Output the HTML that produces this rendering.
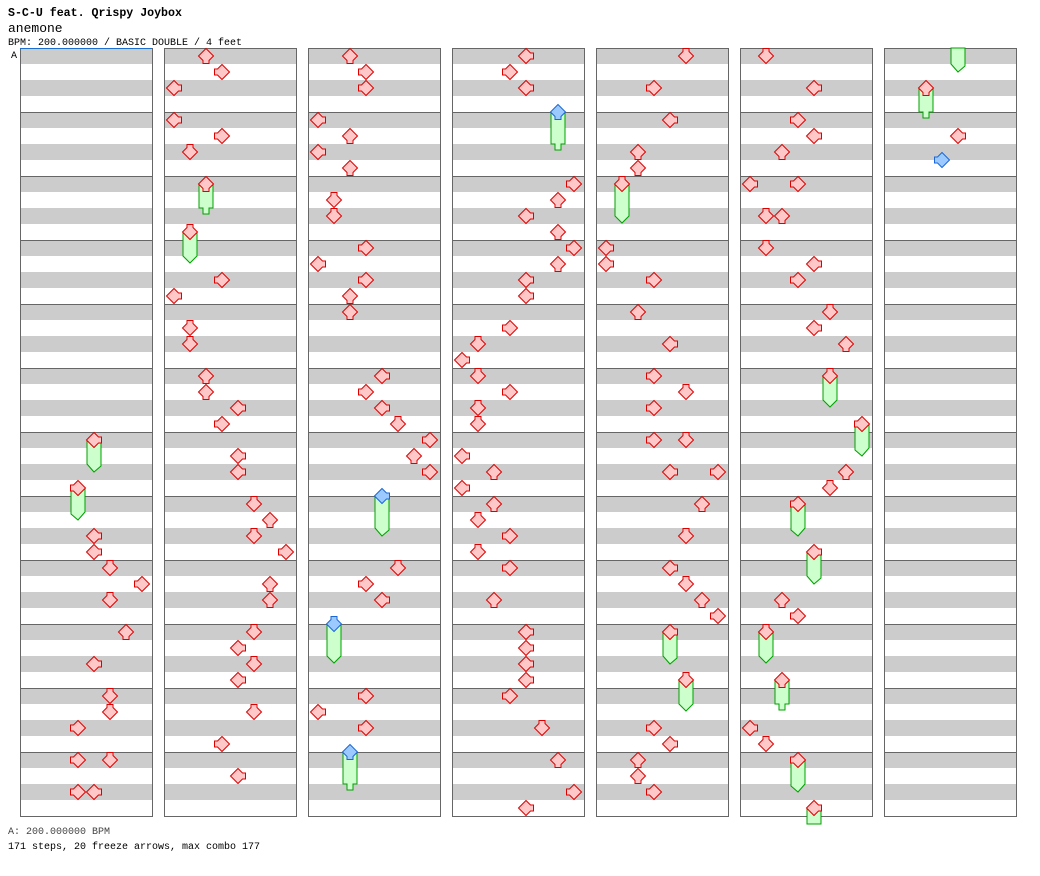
<!DOCTYPE html>
<html><head><meta charset="utf-8"><style>
html,body{margin:0;padding:0;background:#fff;}
svg{display:block;}
</style></head><body>
<svg id="chart" width="1040" height="876" viewBox="0 0 1040 876" xmlns="http://www.w3.org/2000/svg">
<text x="8" y="16" font-family="Liberation Mono, monospace" font-weight="bold" font-size="11.6" fill="#000">S-C-U feat. Qrispy Joybox</text>
<text x="8" y="32" font-family="Liberation Mono, monospace" font-size="13" fill="#000">anemone</text>
<text x="8" y="45" font-family="Liberation Mono, monospace" font-size="10" fill="#000">BPM: 200.000000 / BASIC DOUBLE / 4 feet</text>
<text x="11" y="58" font-family="Liberation Mono, monospace" font-size="10" fill="#000">A</text>
<g id="grid"></g>
<g id="freezes"></g>
<g id="notes"></g>
<line x1="20" y1="48.5" x2="152" y2="48.5" stroke="#1a6fd0" stroke-width="1"/>
<text x="8" y="834" font-family="Liberation Mono, monospace" font-size="10" fill="#444">A: 200.000000 BPM</text>
<text x="8" y="849" font-family="Liberation Mono, monospace" font-size="10" fill="#000">171 steps, 20 freeze arrows, max combo 177</text>
</svg>
<script>
// chart data: beat position (global), lane (0-7: L D U R L D U R), freeze length in beats (0 = tap)
const noteBeats = [24,27,30,31,32,33,34,36,38,40,41,42,44,44,46,46,
48,49,50,52,53,54,56,59,62,63,65,66,68,69,70,71,73,74,76,77,78,79,81,82,84,85,86,87,89,91,93,
96,97,98,100,101,102,103,105,106,108,109,110,111,112,116,117,118,119,120,121,122,123.5,128,129,130,131.5,136,137,138,139.5,
144,145,146,147.5,152,153,154,155,156,157,158,159,161,162,163,164,165,166,167,169,170,171,172,173,174,175,176,178,180,181,182,183,184,186,188,190,191,
192,194,196,198,199,200,204,205,206,208,210,212,213,214,216,216,218,218,220,222,224,225,226,227,228,231,234,235,236,237,238,
240,242,244,245,246,248,248,250,250,252,253,254,256,257,258,260,263,266,267,268,271,274,275,276,279,282,283,284,287,
290,293,294.5];
const noteLanes = [4,3,4,4,5,7,5,6,4,5,5,3,3,5,3,4,
2,3,0,0,3,1,2,1,3,0,1,1,2,2,4,3,4,4,5,6,5,7,6,6,5,4,5,4,5,3,4,
2,3,3,0,2,0,2,1,1,3,0,3,2,2,4,3,4,5,7,6,7,4,5,3,4,1,3,0,3,2,
4,3,4,6,7,6,4,6,7,6,4,4,3,1,0,1,3,1,1,0,2,0,2,1,3,1,3,2,4,4,4,4,3,5,6,7,4,
5,3,4,2,2,1,0,0,3,2,4,3,5,3,3,5,4,7,6,5,4,5,6,7,4,5,3,4,2,2,3,
1,4,3,4,2,0,3,1,2,1,4,3,5,4,6,5,7,6,5,3,4,2,3,1,2,0,1,3,4,
2,4,3];
const holdLens = [1.5,1.5,0,0,0,0,0,0,0,0,0,0,0,0,0,0,
0,0,0,0,0,0,1.5,1.5,0,0,0,0,0,0,0,0,0,0,0,0,0,0,0,0,0,0,0,0,0,0,0,
0,0,0,0,0,0,0,0,0,0,0,0,0,0,0,0,0,0,0,0,0,2,0,0,0,2,0,0,0,2,
0,0,0,2,0,0,0,0,0,0,0,0,0,0,0,0,0,0,0,0,0,0,0,0,0,0,0,0,0,0,0,0,0,0,0,0,0,
0,0,0,0,0,2,0,0,0,0,0,0,0,0,0,0,0,0,0,0,0,0,0,0,1.5,1.5,0,0,0,0,0,
0,0,0,0,0,0,0,0,0,0,0,0,0,0,0,1.5,1.5,0,0,1.5,1.5,0,0,1.5,1.5,0,0,1.5,1.5,
1.5,0,0];
const laneAngles = [-90,180,0,90,-90,180,0,90];

const NS = 'http://www.w3.org/2000/svg';
const BEATS_PER_COL = 48, COLS = 7, TOP = 48, BEAT_PX = 16, COL_W = 132;
const colX = c => 20 + 144 * c;
const colOf = b => Math.floor(b / BEATS_PER_COL);
const yOf = b => TOP + BEAT_PX * (b - colOf(b) * BEATS_PER_COL);
const laneX = (c, l) => colX(c) + 10 + 16 * l;

const grid = document.getElementById('grid');
const frz = document.getElementById('freezes');
const notes = document.getElementById('notes');

for (let c = 0; c < COLS; c++) {
  const g = document.createElementNS(NS, 'g');
  
  
  for (let b = 0; b < BEATS_PER_COL; b++) {
    const r = document.createElementNS(NS, 'rect');
    r.setAttribute('x', colX(c)); r.setAttribute('y', TOP + b * BEAT_PX);
    r.setAttribute('width', COL_W); r.setAttribute('height', BEAT_PX);
    r.setAttribute('fill', b % 2 === 0 ? '#cccccc' : '#ffffff');
    g.appendChild(r);
  }
  for (let m = 1; m < 12; m++) {
    const ln = document.createElementNS(NS, 'line');
    
    
    ln.setAttribute('x1', colX(c)); ln.setAttribute('x2', colX(c) + COL_W);
    ln.setAttribute('y1', TOP + m * 64 + 0.5); ln.setAttribute('y2', TOP + m * 64 + 0.5);
    ln.setAttribute('stroke', '#666'); ln.setAttribute('stroke-width', '1');
    g.appendChild(ln);
  }
  const bd = document.createElementNS(NS, 'rect');
  bd.setAttribute('x', colX(c) + 0.5); bd.setAttribute('y', TOP + 0.5);
  bd.setAttribute('width', COL_W); bd.setAttribute('height', 768);
  bd.setAttribute('fill', 'none'); bd.setAttribute('stroke', '#666');
  g.appendChild(bd);
  grid.appendChild(g);
}

const ARROW = '8,0.5 15.5,8 11,12.5 11,15.5 5,15.5 5,12.5 0.5,8';

function drawArrow(b, lane) {
  const c = colOf(b), cx = laneX(c, lane), y = yOf(b);
  const blue = (b % 1) !== 0;
  const p = document.createElementNS(NS, 'polygon');
  
  
  p.setAttribute('points', ARROW);
  p.setAttribute('fill', blue ? '#9cc9ff' : '#ffc8c8');
  p.setAttribute('stroke', blue ? '#1a66d8' : '#dd0000');
  p.setAttribute('stroke-width', '1');
  p.setAttribute('transform', `translate(${cx - 8},${y}) rotate(${laneAngles[lane]},8,8)`);
  notes.appendChild(p);
}

function bodyPoly(cx, y1, yE, lane, tail) {
  const l = cx - 7, r = cx + 7;
  let pts = [[l, y1], [r, y1]];
  if (!tail) { pts.push([r, yE], [l, yE]); }
  else if (lane === 2 || lane === 6) {
    pts.push([r, yE + 8], [cx + 3, yE + 8], [cx + 3, yE + 14], [cx - 3, yE + 14], [cx - 3, yE + 8], [l, yE + 8]);
  } else if (lane === 0 || lane === 4) {
    pts.push([r, yE + 10], [cx, yE + 16], [l, yE + 8]);
  } else if (lane === 3 || lane === 7) {
    pts.push([r, yE + 8], [cx, yE + 16], [l, yE + 10]);
  } else {
    pts.push([r, yE + 8], [cx, yE + 15], [l, yE + 8]);
  }
  const p = document.createElementNS(NS, 'polygon');
  
  
  p.setAttribute('points', pts.map(q => q.join(',')).join(' '));
  p.setAttribute('fill', '#ccffcc');
  p.setAttribute('stroke', '#00a000');
  p.setAttribute('stroke-width', '1');
  frz.appendChild(p);
}

function drawFreeze(b, lane, len) {
  const end = b + len;
  const c = colOf(b), cx = laneX(c, lane), y = yOf(b);
  if (colOf(end) === c) {
    bodyPoly(cx, y + 8, yOf(end), lane, true);
  } else {
    bodyPoly(cx, y + 8, TOP + 768 + 8, lane, false);
    const c2 = colOf(end);
    bodyPoly(laneX(c2, lane), TOP, yOf(end), lane, true);
  }
}

for (let i = 0; i < noteBeats.length; i++) {
  if (holdLens[i] > 0) drawFreeze(noteBeats[i], noteLanes[i], holdLens[i]);
}
for (let i = 0; i < noteBeats.length; i++) {
  drawArrow(noteBeats[i], noteLanes[i]);
}
</script>
</body></html>
